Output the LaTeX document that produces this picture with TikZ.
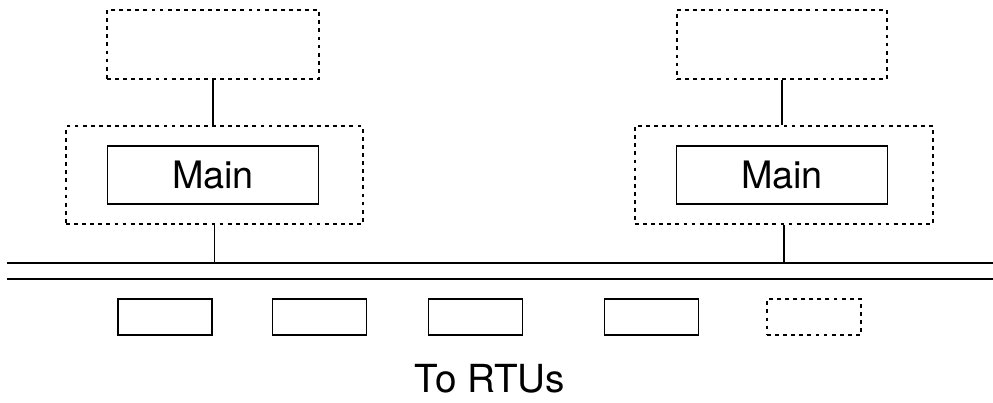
\documentclass[tikz,border=0pt]{standalone}
\usepackage{fontspec}
\setmainfont{TeX Gyre Heros}
\usepackage{tikz}
\usetikzlibrary{positioning}

\begin{document}
\begin{tikzpicture}[line width=1pt,
                    dotbox/.style={draw,dash pattern=on 2.2pt off 2.4pt,inner sep=0pt},
                    solidbox/.style={draw,inner sep=0pt},
                    mainbox/.style={solidbox,minimum width=4.22cm,minimum height=1.15cm,font=\fontsize{21.5}{26}\selectfont},
                    rtu/.style={solidbox,minimum width=1.88cm,minimum height=0.72cm}]
    \useasboundingbox (0,0) rectangle (19.86,8.06);

    % two main stations, each with a standby box above it
    \node[dotbox,minimum width=5.94cm,minimum height=1.95cm] (outerL) at (4.29,4.56) {};
    \node[mainbox]  (mainL) at (4.26,4.56) {Main};
    \node[dotbox,minimum width=4.24cm,minimum height=1.38cm] (topL) at (4.26,7.17) {};

    \node[dotbox,minimum width=5.96cm,minimum height=1.96cm] (outerR) at (15.68,4.56) {};
    \node[mainbox]  (mainR) at (15.64,4.56) {Main};
    \node[dotbox,minimum width=4.20cm,minimum height=1.38cm] (topR) at (15.64,7.17) {};

    % double bus line
    \coordinate (busA1) at (0.14,2.80);
    \coordinate (busA2) at (19.86,2.80);
    \coordinate (busB1) at (0.14,2.48);
    \coordinate (busB2) at (19.86,2.48);
    \draw (busA1) -- (busA2);
    \draw (busB1) -- (busB2);

    \draw (topL.south) -- (topL.south |- outerL.north);
    \draw (topR.south) -- (topR.south |- outerR.north);
    \draw (outerL.south) -- (outerL.south |- busA1);
    \draw (outerR.south) -- (outerR.south |- busA1);

    % remote units
    \node[rtu] (rtu1) at (3.30,1.72) {};
    \node[rtu] (rtu2) at (6.39,1.72) {};
    \node[rtu] (rtu3) at (9.51,1.72) {};
    \node[rtu] (rtu4) at (13.03,1.72) {};
    \node[dotbox,minimum width=1.88cm,minimum height=0.72cm] (rtu5) at (16.28,1.72) {};

    \node[anchor=base,inner sep=0pt,font=\fontsize{22}{26}\selectfont] (rtulabel) at (9.80,0.20) {To RTUs};
\end{tikzpicture}
\end{document}
